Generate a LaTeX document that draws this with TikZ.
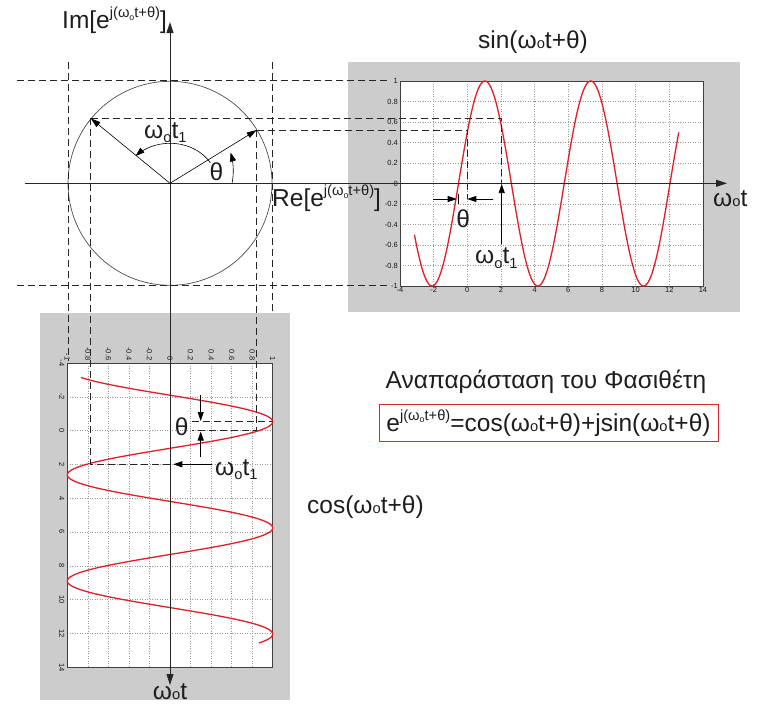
\documentclass[tikz,border=0pt]{standalone}
\usepackage{fontspec}
\usepackage{graphicx}
\setmainfont{Liberation Sans}
\usetikzlibrary{arrows.meta}
\newcommand\wo{ω\scalebox{0.6}{o}}
\newcommand\wsub{ω\raisebox{-0.35ex}{\scalebox{0.6}{o}}}
\newcommand\wott{\wsub t\raisebox{-0.35ex}{\scalebox{0.6}{1}}}
\newcommand\ejup{e\raisebox{0.45em}{\scalebox{0.6}{j(\wsub t+θ)}}}
\definecolor{curvered}{RGB}{226,30,40}
\definecolor{boxred}{RGB}{214,40,50}
\definecolor{panelgray}{RGB}{204,204,204}
\definecolor{txt}{RGB}{30,30,30}
\tikzset{
  lbl/.style={font=\fontsize{24.5}{28}\selectfont, text=txt, inner sep=0pt},
  tick/.style={font=\fontsize{7.5}{8}\selectfont, text=black!90, inner sep=1pt},
  dsh/.style={draw=black!85, dash pattern=on 7pt off 4pt, line width=0.7pt},
  gridl/.style={draw=black!40, dotted, line width=0.5pt},
  axisl/.style={draw=black!85, line width=0.9pt},
  axtip/.style={-{Triangle[length=11pt,width=7pt]}},
  vec/.style={draw=black, line width=0.6pt, -{Triangle[length=10pt,width=6pt]}},
  ann/.style={draw=black, line width=0.7pt, -{Triangle[length=9pt,width=6pt]}},
  redc/.style={draw=curvered, line width=1.3pt},
  frame/.style={draw=black!75, fill=white, line width=0.6pt},
  panel/.style={fill=panelgray, draw=none}
}
\begin{document}
\begin{tikzpicture}[x=1pt,y=-1pt]
\useasboundingbox (0,0) rectangle (757,705);
% panels
\fill[panel] (348,62) rectangle (740,312);
\fill[panel] (40,313) rectangle (290,700);
% sin plot frame
\path[frame] (400,81) rectangle (703,286);
\foreach \t in {-2,0,...,12} {\draw[gridl] ({467.3+16.83*\t},81) -- ({467.3+16.83*\t},286);}
\foreach \v in {-0.8,-0.6,...,0.81} {\draw[gridl] (400,{183.5-102.5*\v}) -- (703,{183.5-102.5*\v});}
\path[draw=black!75, line width=0.6pt] (400,81) rectangle (703,286);
\foreach \t in {-4,-2,...,14} {\node[tick, anchor=north] at ({467.3+16.83*\t},286.5) {\t};}
\foreach \v/\l in {1/1,0.8/0.8,0.6/0.6,0.4/0.4,0.2/0.2,0/0,-0.2/-0.2,-0.4/-0.4,-0.6/-0.6,-0.8/-0.8,-1/-1} {\node[tick, anchor=east] at (399,{183.5-102.5*\v}) {\l};}
% cos plot frame
\path[frame] (67.3,363) rectangle (272.7,667);
\foreach \t in {-2,0,...,12} {\draw[gridl] (67.3,{430.6+16.9*\t}) -- (272.7,{430.6+16.9*\t});}
\foreach \v in {-0.8,-0.6,...,0.81} {\draw[gridl] ({170+102.7*\v},363) -- ({170+102.7*\v},667);}
\path[draw=black!75, line width=0.6pt] (67.3,363) rectangle (272.7,667);
\foreach \t in {-4,-2,...,14} {\node[tick, rotate=-90, anchor=north] at (65.5,{430.6+16.9*\t}) {\t};}
\foreach \v/\l in {1/1,0.8/0.8,0.6/0.6,0.4/0.4,0.2/0.2,0/0,-0.2/-0.2,-0.4/-0.4,-0.6/-0.6,-0.8/-0.8,-1/-1} {\node[tick, rotate=-90, anchor=east] at ({170+102.7*\v},361.5) {\l};}
% curves
\draw[redc] plot[domain=-3.1416:12.566, samples=240, smooth] ({467.3+16.83*\x},{183.5-102.5*sin(deg(\x)+30)});
\draw[redc] plot[domain=-3.1416:12.566, samples=240, smooth] ({170+102.7*cos(deg(\x)+30)},{430.6+16.9*\x});
% key points
\coordinate (O) at (170,183.3);
\coordinate (P1) at (256.7,130);
\coordinate (P2) at (90.7,118.3);
\coordinate (ImS) at (170,685);
\coordinate (ImE) at (170,22);
\coordinate (ReS) at (25,183.3);
\coordinate (ReE) at (727,183.3);
% circle
\draw[black!70, line width=0.7pt] (O) circle[radius=102];
% dashed guides
\coordinate (hT1) at (17,80); \coordinate (hT2) at (387,80);
\coordinate (hB1) at (17,285); \coordinate (hB2) at (387,285);
\coordinate (vL1) at (68,62); \coordinate (vL2) at (68,361);
\coordinate (vR1) at (272.7,62); \coordinate (vR2) at (272.7,313);
\coordinate (S2) at (501.7,118.3); \coordinate (S2a) at (501.7,183.3);
\coordinate (S1) at (467.3,130); \coordinate (S1a) at (467.3,199);
\coordinate (C2) at (90.7,464.3);
\coordinate (C2e) at (173.3,464.3);
\coordinate (C1) at (256.7,430.6);
\coordinate (Cpk) at (272.7,421.7);
\coordinate (Cpk0) at (192,421.7);
\coordinate (C10) at (192,430.6);
\draw[dsh] (hT1) -- (hT2);
\draw[dsh] (hB1) -- (hB2);
\draw[dsh] (vL1) -- (vL2);
\draw[dsh] (vR1) -- (vR2);
\draw[dsh] (P2) -- (S2) -- (S2a);
\draw[dsh] (P1) -- (S1) -- (S1a);
\draw[dsh] (P2) -- (C2) -- (C2e);
\draw[dsh] (P1) -- (C1) -- (C10);
\draw[dsh] (Cpk0) -- (Cpk);
% axes
\draw[axisl, axtip] (O) -- (ImE);
\draw[axisl, axtip] (O) -- (ImS);
\draw[axisl, axtip] (ReS) -- (ReE);
% vectors
\draw[vec] (O) -- (P1);
\draw[vec] (O) -- (P2);
% arcs
\draw[draw=black, line width=0.6pt, -{Triangle[length=9pt,width=6pt]}] plot[domain=31:137, samples=40, smooth] ({170+47*cos(\x)},{183.3-40*sin(\x)});
\draw[draw=black, line width=0.6pt, -{Triangle[length=9pt,width=6pt]}] plot[domain=0:27, samples=20, smooth] ({170+(62+6*\x/27)*cos(\x)},{183.3-(62+6*\x/27)*sin(\x)});
% labels
\node[lbl, anchor=base west] (imlab) at (62,28.5) {Im[\ejup]};
\node[lbl, anchor=base west] (relab) at (272,206.5) {Re[\ejup]};
\node[lbl, anchor=base] (sintitle) at (533,48.5) {sin(\wo t+θ)};
\node[lbl, anchor=base west] (wtr) at (713,206.7) {\wo t};
\node[lbl, anchor=base] (wtb) at (170,699.5) {\wo t};
\node[lbl, anchor=base] (title) at (546,388) {Αναπαράσταση του Φασιθέτη};
\node[lbl, draw=boxred, line width=0.8pt, minimum width=339pt, minimum height=37.7pt, anchor=center] (formula) at (548.5,422.9) {\ejup=cos(\wo t+θ)+jsin(\wo t+θ)};
\node[lbl, anchor=base west] (coslab) at (307,513.5) {cos(\wo t+θ)};
\node[lbl] (thc) at (216.5,171.5) {θ};
\node[lbl, anchor=base west] (wtc) at (144,138) {\wott};
\node[lbl] (ths) at (463.3,219) {θ};
\node[lbl, anchor=base west] (wts) at (475,263.5) {\wott};
\node[lbl] (thk) at (181.7,427) {θ};
\node[lbl, anchor=base west] (wtk) at (215,475) {\wott};
% annotation arrows
\coordinate (a1) at (433.3,199); \coordinate (a1t) at (456.7,199);
\coordinate (a2) at (493.3,199); \coordinate (a2t) at (467.3,199);
\draw[ann] (a1) -- (a1t);
\draw[ann] (a2) -- (a2t);
\coordinate (tk1) at (458.5,194); \coordinate (tk2) at (458.5,204);
\draw[black, line width=0.6pt] (tk1) -- (tk2);
\coordinate (a3) at (501.7,244); \coordinate (a3t) at (501.7,184);
\draw[ann] (a3) -- (a3t);
\coordinate (b1) at (200.7,395); \coordinate (b1t) at (200.7,421);
\coordinate (b2) at (200.7,456.7); \coordinate (b2t) at (200.7,431.5);
\draw[ann] (b1) -- (b1t);
\draw[ann] (b2) -- (b2t);
\coordinate (b3) at (211.7,464.3); \coordinate (b3t) at (173.3,464.3);
\draw[ann] (b3) -- (b3t);
\end{tikzpicture}
\end{document}
